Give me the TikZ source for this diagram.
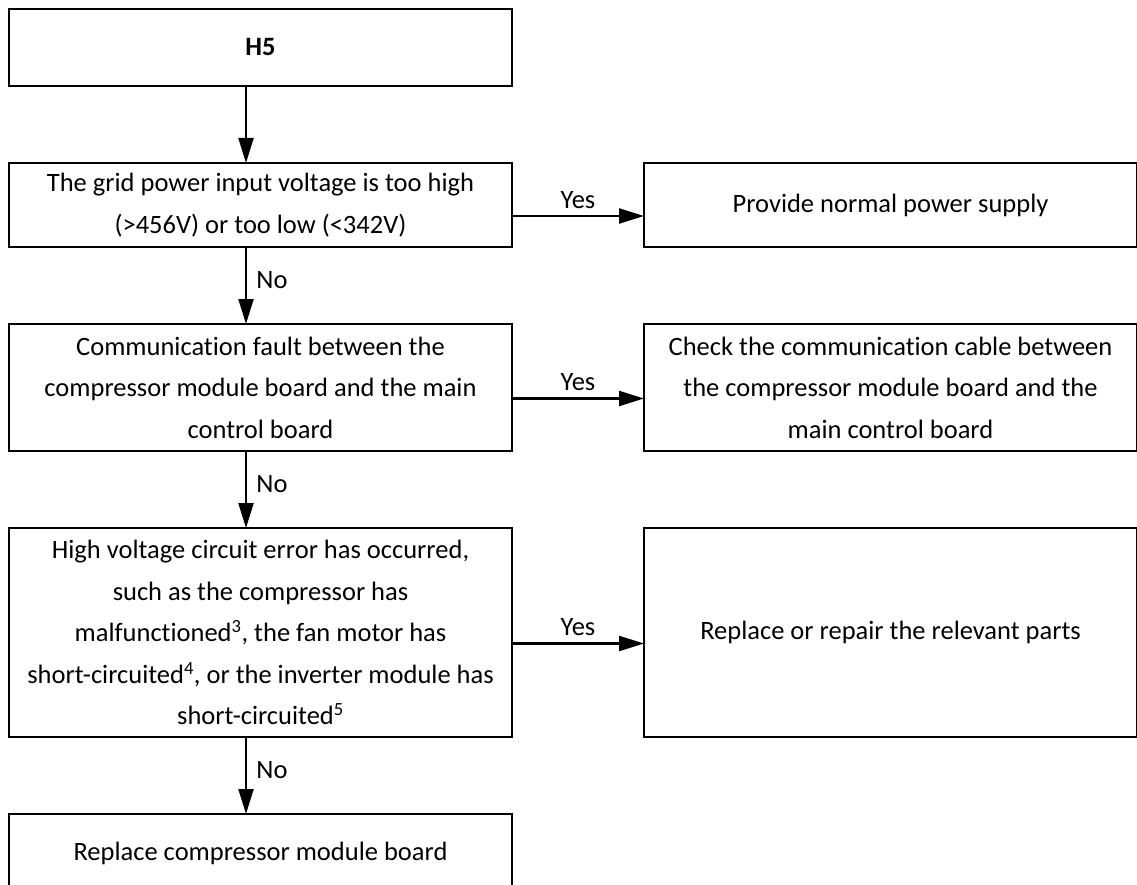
\documentclass[tikz,border=0pt]{standalone}
\usepackage{fontspec}
\setmainfont{Carlito}[Ligatures=NoCommon]
\usepackage{tikz}
\usetikzlibrary{positioning,arrows.meta}

\begin{document}
\begin{tikzpicture}[
  node distance=77pt and 132pt,
  box/.style={rectangle, draw, line width=1.5pt, minimum width=503pt, inner sep=0pt, outer sep=0pt, align=center, font=\fontsize{26.5}{41.5}\selectfont},
  wide/.style={box, minimum width=493pt},
  arrow/.style={-{Triangle[length=25pt,width=15pt]}, line width=2.2pt},
  lbl/.style={font=\fontsize{26.5}{30}\selectfont},
]
  \useasboundingbox (0,0) rectangle (1137pt,-885pt);

  \node[box, minimum height=77pt] (h5) at (260.5pt,-47.5pt) {\bfseries H5};
  \node[box, minimum height=84pt, below=of h5] (grid) {The grid power input voltage is too high\\(>456V) or too low (<342V)};
  \node[wide, minimum height=84pt, right=of grid] (power) {Provide normal power supply};
  \node[box, minimum height=127pt, below=of grid] (comm) {Communication fault between the\\compressor module board and the main\\control board};
  \node[wide, minimum height=127pt, right=of comm] (cable) {Check the communication cable between\\the compressor module board and the\\main control board};
  \node[box, minimum height=209pt, below=of comm] (hv) {High voltage circuit error has occurred,\\such as the compressor has\\malfunctioned\textsuperscript{3}, the fan motor has\\short-circuited\textsuperscript{4}, or the inverter module has\\short-circuited\textsuperscript{5}};
  \node[wide, minimum height=209pt, right=of hv] (parts) {Replace or repair the relevant parts};
  \node[box, minimum height=78pt, below=of hv] (board) {Replace compressor module board};

  \draw[arrow] ([xshift=-14.5pt]h5.south) -- ([xshift=-14.5pt]grid.north);
  \draw[arrow] ([xshift=-14.5pt]grid.south) -- node[lbl, right=6pt, yshift=5pt] {No} ([xshift=-14.5pt]comm.north);
  \draw[arrow] ([xshift=-14.5pt]comm.south) -- node[lbl, right=6pt, yshift=5pt] {No} ([xshift=-14.5pt]hv.north);
  \draw[arrow] ([xshift=-14.5pt]hv.south) -- node[lbl, right=6pt, yshift=5pt] {No} ([xshift=-14.5pt]board.north);

  \draw[arrow] ([yshift=-11pt]grid.east) -- node[lbl, above=3pt] {Yes} ([yshift=-11pt]power.west);
  \draw[arrow] ([yshift=-11pt]comm.east) -- node[lbl, above=3pt] {Yes} ([yshift=-11pt]cable.west);
  \draw[arrow] ([yshift=-11pt]hv.east) -- node[lbl, above=3pt] {Yes} ([yshift=-11pt]parts.west);
\end{tikzpicture}
\end{document}
